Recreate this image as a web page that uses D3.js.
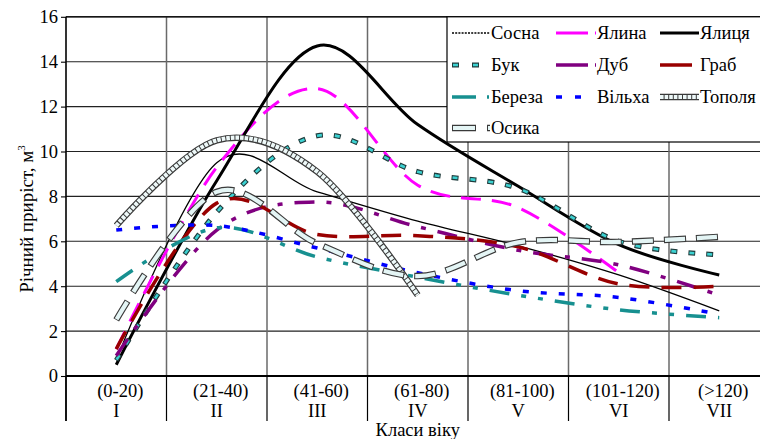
<!DOCTYPE html>
<html><head><meta charset="utf-8">
<script src="https://cdn.jsdelivr.net/npm/d3@7"></script>
<style>
body{margin:0;background:#fff}
svg{display:block}
text{font-family:"Liberation Serif","Times New Roman",serif;fill:#000}
</style>
</head><body>
<svg id="chart" width="760" height="439"></svg>
<script>
// ---------- data ----------
const categories = ["I", "II", "III", "IV", "V", "VI", "VII"];
const ageRanges = ["(0-20)", "(21-40)", "(41-60)", "(61-80)", "(81-100)", "(101-120)", "(>120)"];
const yTicks = [0, 2, 4, 6, 8, 10, 12, 14, 16];
const seriesNames = ["Сосна", "Ялина", "Ялиця", "Бук", "Дуб", "Граб", "Береза", "Вільха", "Тополя", "Осика"];

const sosna    = [0.7, 9.5, 8.2, 6.9, 5.8, 4.5, 2.9];
const yalyna   = [1.2, 9.3, 12.8, 8.5, 7.5, 4.6, null];
const yalytsia = [0.5, 8.7, 14.7, 11.2, 8.45, 5.85, 4.5];
const buk      = [0.7, 7.3, 10.7, 9.1, 8.35, 6.0, 5.4];
const dub      = [0.9, 6.5, 7.75, 6.65, 5.6, 4.95, 3.6];
const hrab     = [1.2, 7.7, 6.3, 6.25, 5.75, 4.1, 4.0];
const bereza   = [4.2, 6.6, 5.3, 4.4, 3.6, 2.95, 2.6];
const vilkha   = [6.5, 6.7, 5.7, 4.6, 3.8, 3.5, 2.75];
const topolia  = [6.7, 10.5, 9.1, 3.6, null, null, null];
const osyka    = [2.5, 8.2, 5.9, 4.45, 5.95, 5.97, 6.2];

const seriesValues = [sosna, yalyna, yalytsia, buk, dub, hrab, bereza, vilkha, topolia, osyka];

// ---------- styles ----------
const styles = {
  "Сосна":  {layers: [{stroke: "#000", width: 1.3}], legendDash: "2,1.2"},
  "Ялина":  {layers: [{stroke: "#ff00ff", width: 3, dash: "20,11"}], legendDash: "32,7,2,30"},
  "Ялиця":  {layers: [{stroke: "#000", width: 3}], legendDash: null},
  "Бук":    {layers: [{stroke: "#203c3c", width: 5, dash: "7,11"}, {stroke: "#3cd2d2", width: 2.6, dash: "5,13", offset: -1}], legendDash: "7,13,7,30"},
  "Дуб":    {layers: [{stroke: "#800080", width: 3.5, dash: "20,12,5,12"}], legendDash: "32,7,2,30"},
  "Граб":   {layers: [{stroke: "#990000", width: 3.5, dash: "20,12"}], legendDash: "32,7,2,30"},
  "Береза": {layers: [{stroke: "#179090", width: 3.5, dash: "20,12,5,12,5,12"}], legendDash: "24,11,2,30"},
  "Вільха": {layers: [{stroke: "#0000ff", width: 3.5, dash: "6,12"}], legendDash: "6,13,6,30"},
  "Тополя": {layers: [{stroke: "#3a3a3a", width: 6.5}, {stroke: "#eef9f9", width: 4.2, dash: "3.6,1"}], legendDash: null},
  "Осика":  {layers: [{stroke: "#3a3a3a", width: 6.5, dash: "22,10"}, {stroke: "#e4f5f5", width: 4.2, dash: "20,12", offset: -1}], legendDash: "24,11,4,30"}
};

// ---------- layout ----------
const svg = d3.select("#chart");
const plotLeft = 66, plotTop = 16.8, plotBottom = 376, plotRight = 769.5, W = 760;
const x = d3.scaleBand().domain(categories).range([plotLeft, plotRight]).paddingInner(0).paddingOuter(0);
const xc = c => x(c) + x.bandwidth() / 2;
const y = d3.scaleLinear().domain([0, 16]).range([plotBottom, plotTop]);

// horizontal gridlines
svg.append("g").selectAll("line").data(yTicks.filter(d => d > 0)).join("line")
  .attr("x1", plotLeft).attr("x2", W).attr("y1", d => y(d)).attr("y2", d => y(d))
  .attr("stroke", "#222").attr("stroke-width", 1.1);

// vertical gridlines (category boundaries)
svg.append("g").selectAll("line").data(categories.slice(1)).join("line")
  .attr("x1", d => x(d)).attr("x2", d => x(d)).attr("y1", plotTop).attr("y2", plotBottom)
  .attr("stroke", "#6a6a6a").attr("stroke-width", 1.5);

// table separators below axis
svg.append("g").selectAll("line").data(categories).join("line")
  .attr("x1", d => x(d)).attr("x2", d => x(d)).attr("y1", plotBottom).attr("y2", 421)
  .attr("stroke", "#000").attr("stroke-width", 1.2);

// series
const line = d3.line()
  .defined(d => d.v != null)
  .x(d => xc(d.c)).y(d => y(d.v))
  .curve(d3.curveCardinal.tension(0));

const gSeries = svg.append("g");
seriesNames.forEach((name, i) => {
  const pts = categories.map((c, j) => ({c, v: seriesValues[i][j]}));
  styles[name].layers.forEach(L => {
    gSeries.append("path").datum(pts)
      .attr("d", line)
      .attr("fill", "none")
      .attr("stroke", L.stroke)
      .attr("stroke-width", L.width)
      .attr("stroke-dasharray", L.dash || null)
      .attr("stroke-dashoffset", L.offset || 0)
      .attr("stroke-linejoin", "round");
  });
});

// y axis
const gy = svg.append("g").attr("transform", `translate(${plotLeft},0)`)
  .call(d3.axisLeft(y).tickValues(yTicks).tickSize(5).tickPadding(3).tickFormat(d3.format("d")));
gy.select(".domain").remove();
gy.selectAll(".tick line").attr("stroke", "#000").attr("stroke-width", 1.1);
gy.selectAll(".tick text").attr("font-size", 18.5).attr("font-family", "Liberation Serif").attr("fill", "#000");
svg.append("line").attr("x1", plotLeft).attr("x2", plotLeft).attr("y1", plotTop).attr("y2", 421)
  .attr("stroke", "#000").attr("stroke-width", 1.6);

// top border
svg.append("line").attr("x1", plotLeft).attr("x2", W).attr("y1", plotTop).attr("y2", plotTop)
  .attr("stroke", "#000").attr("stroke-width", 1.2);

// x axis
const gx = svg.append("g").attr("transform", `translate(0,${plotBottom})`)
  .call(d3.axisBottom(x).tickSize(0).tickPadding(0));
gx.select(".domain").remove();
gx.selectAll(".tick text").text(null)
  .attr("font-size", 18.5).attr("font-family", "Liberation Serif").attr("fill", "#000")
  .each(function (d, i) {
    const t = d3.select(this);
    t.attr("y", 0).attr("dy", null);
    t.append("tspan").attr("x", 4).attr("y", 21).text(ageRanges[i]);
    t.append("tspan").attr("x", 0).attr("y", 41).text(d);
  });
svg.append("line").attr("x1", plotLeft).attr("x2", W).attr("y1", plotBottom).attr("y2", plotBottom)
  .attr("stroke", "#000").attr("stroke-width", 2);

// axis titles
svg.append("text").attr("x", (plotLeft + plotRight) / 2).attr("y", 436)
  .attr("text-anchor", "middle").attr("font-size", 18.5).text("Класи віку");
const yt = svg.append("text").attr("transform", "translate(33,219) rotate(-90)")
  .attr("text-anchor", "middle").attr("font-size", 19);
yt.append("tspan").text("Річний приріст, м");
yt.append("tspan").attr("dy", -8).attr("font-size", 11).text("3");

// legend
const lg = svg.append("g");
lg.append("rect").attr("x", 447).attr("y", plotTop).attr("width", 330).attr("height", 142 - plotTop)
  .attr("fill", "#fff").attr("stroke", "#000").attr("stroke-width", 1.2);
const colX = [452, 556, 660];
const colLen = [38, 40, 39];
const rowY = [33, 65, 97, 128];
seriesNames.forEach((name, i) => {
  const col = i % 3, row = Math.floor(i / 3);
  const x0 = colX[col], yy = rowY[row], len = colLen[col];
  styles[name].layers.forEach((L, k) => {
    let dash = styles[name].legendDash;
    if (dash && k > 0) dash = dash.split(",").map((v, m) => m % 2 === 0 ? Math.max(+v - 2, 1) : +v + 2).join(",");
    if (!dash && L.dash) dash = L.dash;
    lg.append("line").attr("x1", x0).attr("x2", x0 + len).attr("y1", yy).attr("y2", yy)
      .attr("stroke", L.stroke).attr("stroke-width", L.width)
      .attr("stroke-dasharray", dash)
      .attr("stroke-dashoffset", k > 0 && styles[name].legendDash ? -1 : 0);
  });
  lg.append("text").attr("x", x0 + len + 1).attr("y", yy).attr("dy", "0.35em")
    .attr("font-size", 18.5).text(name);
});
</script>
</body></html>
